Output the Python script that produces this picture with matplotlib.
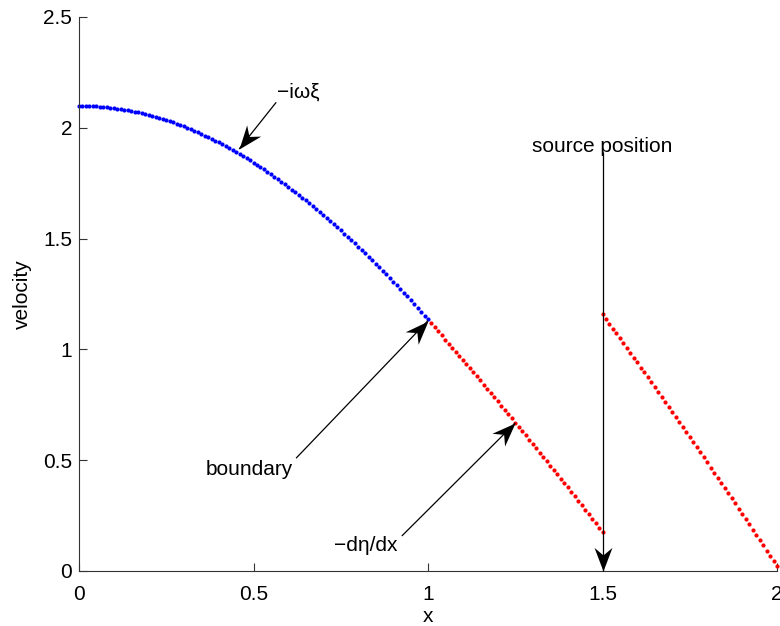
import math
import matplotlib
matplotlib.use("Agg")
import matplotlib.pyplot as plt
from matplotlib.path import Path
from matplotlib.markers import MarkerStyle
from matplotlib.transforms import Affine2D

plt.rcParams['font.family'] = ['Liberation Sans', 'DejaVu Sans']

# -i*omega*xi on 0 <= x <= 1 (step 0.01)
x_inner = [i / 100 for i in range(0, 101)]
v_inner = [
    2.100, 2.100, 2.100, 2.099, 2.098, 2.097, 2.096, 2.095, 2.093, 2.091,
    2.090, 2.087, 2.085, 2.082, 2.079, 2.076, 2.073, 2.070, 2.066, 2.062,
    2.058, 2.054, 2.049, 2.045, 2.040, 2.035, 2.029, 2.024, 2.018, 2.012,
    2.006, 2.000, 1.993, 1.987, 1.980, 1.973, 1.965, 1.958, 1.950, 1.942,
    1.934, 1.926, 1.917, 1.909, 1.900, 1.891, 1.882, 1.872, 1.863, 1.853,
    1.843, 1.833, 1.822, 1.812, 1.801, 1.790, 1.779, 1.768, 1.757, 1.745,
    1.733, 1.721, 1.709, 1.697, 1.684, 1.672, 1.659, 1.646, 1.633, 1.620,
    1.606, 1.593, 1.579, 1.565, 1.551, 1.537, 1.522, 1.508, 1.493, 1.478,
    1.463, 1.448, 1.433, 1.417, 1.402, 1.386, 1.370, 1.354, 1.338, 1.322,
    1.305, 1.289, 1.272, 1.255, 1.239, 1.222, 1.204, 1.187, 1.170, 1.152,
    1.135,
]

# -d(eta)/dx between the boundary and the source (1 < x <= 1.5)
x_mid = [i / 100 for i in range(101, 151)]
v_mid = [
    1.117, 1.099, 1.081, 1.063, 1.044, 1.026, 1.008, 0.989, 0.971, 0.953,
    0.934, 0.916, 0.897, 0.878, 0.860, 0.841, 0.822, 0.803, 0.784, 0.765,
    0.746, 0.727, 0.708, 0.689, 0.670, 0.651, 0.632, 0.612, 0.593, 0.573,
    0.554, 0.534, 0.515, 0.495, 0.476, 0.456, 0.436, 0.416, 0.397, 0.377,
    0.357, 0.337, 0.317, 0.297, 0.276, 0.256, 0.236, 0.216, 0.195, 0.175,
]

# -d(eta)/dx beyond the source (1.5 <= x <= 2)
x_outer = [i / 100 for i in range(150, 201)]
v_outer = [
    1.158, 1.136, 1.115, 1.093, 1.072, 1.050, 1.028, 1.006, 0.984, 0.962,
    0.941, 0.918, 0.896, 0.874, 0.852, 0.830, 0.808, 0.785, 0.763, 0.740,
    0.718, 0.695, 0.673, 0.650, 0.628, 0.605, 0.582, 0.559, 0.536, 0.513,
    0.490, 0.467, 0.444, 0.421, 0.398, 0.375, 0.352, 0.328, 0.305, 0.281,
    0.258, 0.234, 0.211, 0.187, 0.164, 0.140, 0.116, 0.092, 0.068, 0.045,
    0.021,
]

x_ticks = [0, 0.5, 1, 1.5, 2]
x_tick_labels = ["0", "0.5", "1", "1.5", "2"]
y_ticks = [0, 0.5, 1, 1.5, 2, 2.5]
y_tick_labels = ["0", "0.5", "1", "1.5", "2", "2.5"]

FS = 15
AX_COLOR = "0.2"

fig = plt.figure(figsize=(7.80, 6.26), dpi=100)
ax = fig.add_axes([79 / 780, 1 - 571 / 626, 698 / 780, 554 / 626])

dot = dict(linestyle="none", marker="o", markersize=3.0, markeredgewidth=0,
           clip_on=False)
ax.plot(x_mid, v_mid, color=(1, 0, 0), **dot)
ax.plot(x_outer, v_outer, color=(1, 0, 0), **dot)
ax.plot(x_inner, v_inner, color=(0, 0, 1), **dot)

ax.set_xlim(0, 2)
ax.set_ylim(0, 2.5)
ax.set_xticks(x_ticks)
ax.set_xticklabels(x_tick_labels)
ax.set_yticks(y_ticks)
ax.set_yticklabels(y_tick_labels)

for side in ("top", "right"):
    ax.spines[side].set_visible(False)
for side in ("left", "bottom"):
    ax.spines[side].set_color(AX_COLOR)
    ax.spines[side].set_linewidth(0.8)

ax.tick_params(axis="both", direction="in", length=5.5, width=0.8,
               colors=AX_COLOR, labelcolor="black", labelsize=FS)
ax.tick_params(axis="x", pad=10)
ax.tick_params(axis="y", pad=5)

ax.set_xlabel("x", fontsize=FS, labelpad=2)
ax.set_ylabel("velocity", fontsize=FS, labelpad=8)

# swept-back arrowhead, tip at the origin, pointing along +x
HEAD = Path([(0, 0), (-1.0, 0.38), (-0.68, 0), (-1.0, -0.38), (0, 0)],
            [Path.MOVETO, Path.LINETO, Path.LINETO, Path.LINETO, Path.CLOSEPOLY])


def arrow(tail, tip):
    ax.plot([tail[0], tip[0]], [tail[1], tip[1]], color="black", lw=0.9,
            clip_on=False, zorder=5, solid_capstyle="butt")
    (x0, y0), (x1, y1) = ax.transData.transform([tail, tip])
    ang = math.degrees(math.atan2(y1 - y0, x1 - x0))
    head = MarkerStyle(HEAD, transform=Affine2D().rotate_deg(ang))
    ax.plot([tip[0]], [tip[1]], linestyle="none", marker=head,
            markersize=34, color="black", markeredgewidth=0, clip_on=False,
            zorder=6)


# -i omega xi
arrow((0.565, 2.115), (0.459, 1.905))
ax.text(0.566, 2.16, "\u2212i\u03c9\u03be", fontsize=FS, ha="left", va="center")

# boundary
arrow((0.622, 0.509), (1.0, 1.13))
ax.text(0.613, 0.456, "boundary", fontsize=FS, ha="right", va="center")

# -d eta / dx
arrow((0.925, 0.158), (1.25, 0.668))
ax.text(0.914, 0.113, "\u2212d\u03b7/dx", fontsize=FS, ha="right", va="center")

# source position
arrow((1.5, 1.89), (1.5, 0.0))
ax.text(1.5, 1.89, "source position", fontsize=FS, ha="center", va="baseline")

fig.savefig("out.png", dpi=100, facecolor="white")
